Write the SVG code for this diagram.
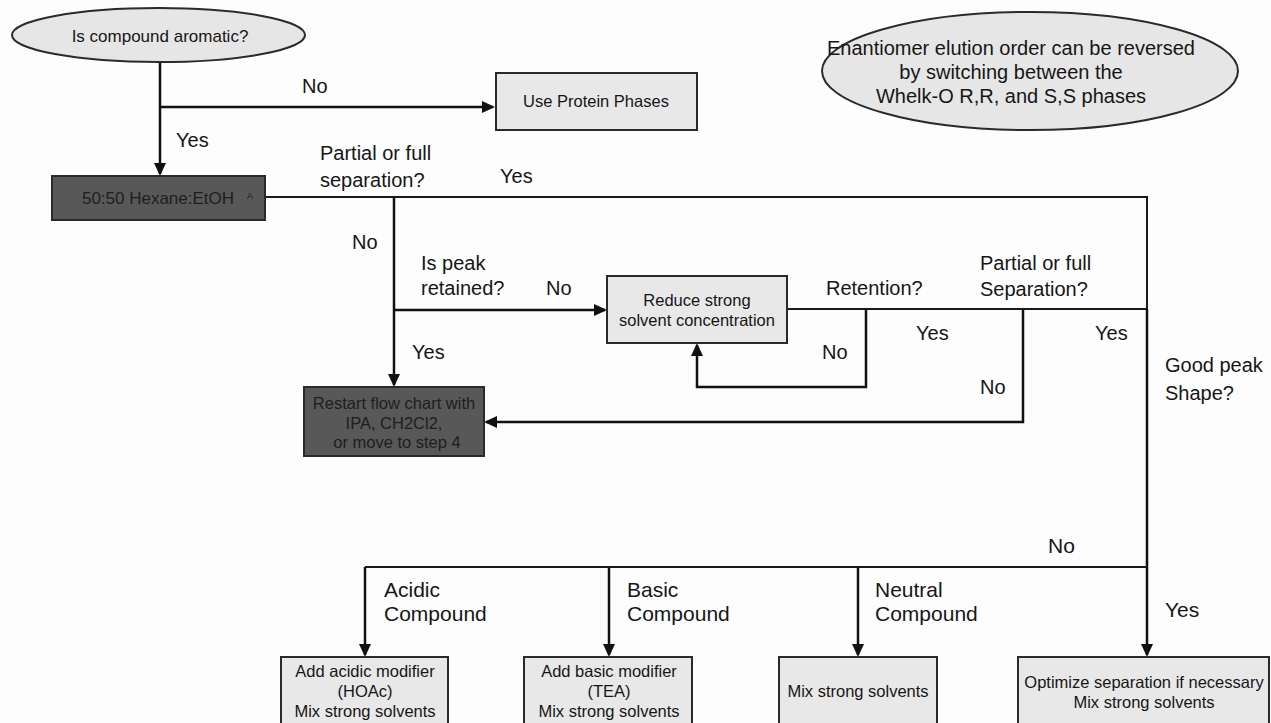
<svg xmlns="http://www.w3.org/2000/svg" width="1271" height="723" viewBox="0 0 1271 723">
  <defs>
    <marker id="arrow" markerUnits="userSpaceOnUse" markerWidth="13" markerHeight="12" refX="11" refY="6" orient="auto">
      <path d="M0,0 L13,6 L0,12 z" fill="#111"/>
    </marker>
    <style>
      text { font-family: "Liberation Sans", Arial, sans-serif; fill: #161616; }
      .lbl { font-size: 20px; }
      .lblb { font-size: 21px; }
      .box { font-size: 16.5px; text-anchor: middle; }
      .note { font-size: 20px; text-anchor: middle; }
      .light { fill: #e8e8e8; stroke: #2a2a2a; stroke-width: 2; }
      .dark { fill: #585858; stroke: #2a2a2a; stroke-width: 2; }
      .dtext { fill: #1e1e1e; }
      .ell { fill: #e6e6e6; stroke: #2a2a2a; stroke-width: 2; }
      .wire { fill: none; stroke: #1a1a1a; stroke-width: 2; }
      .flow { fill: none; stroke: #111; stroke-width: 2.5; marker-end: url(#arrow); }
    </style>
  </defs>

  <rect width="1271" height="723" fill="#fdfdfd"/>

  <!-- connectors -->
  <g id="connectors">
    <line class="flow" x1="160" y1="62" x2="160" y2="174"/>
    <line class="flow" x1="160" y1="107" x2="493" y2="107"/>
    <polyline class="wire" points="265,197 1147,197 1147,309"/>
    <line class="flow" x1="394" y1="197" x2="394" y2="385"/>
    <line class="flow" x1="394" y1="310" x2="605" y2="310"/>
    <line class="wire" x1="787" y1="309" x2="1147" y2="309"/>
    <polyline class="flow" points="866,309 866,387 697,387 697,345"/>
    <polyline class="flow" points="1023,309 1023,422 486,422"/>
    <line class="flow" x1="1147" y1="309" x2="1147" y2="655"/>
    <line class="wire" x1="365" y1="567" x2="1147" y2="567"/>
    <line class="flow" x1="365" y1="567" x2="365" y2="655"/>
    <line class="flow" x1="609" y1="567" x2="609" y2="655"/>
    <line class="flow" x1="858" y1="567" x2="858" y2="655"/>
  </g>

  <!-- connector labels -->
  <g id="labels">
    <text class="lbl" x="302" y="93">No</text>
    <text class="lbl" x="176" y="147">Yes</text>
    <text class="lbl" x="320" y="160">Partial or full</text>
    <text class="lbl" x="320" y="187">separation?</text>
    <text class="lbl" x="500" y="183">Yes</text>
    <text class="lbl" x="352" y="249">No</text>
    <text class="lbl" x="421" y="270">Is peak</text>
    <text class="lbl" x="421" y="295">retained?</text>
    <text class="lbl" x="546" y="295">No</text>
    <text class="lbl" x="412" y="359">Yes</text>
    <text class="lbl" x="826" y="295">Retention?</text>
    <text class="lbl" x="980" y="270">Partial or full</text>
    <text class="lbl" x="980" y="296">Separation?</text>
    <text class="lbl" x="822" y="359">No</text>
    <text class="lbl" x="916" y="340">Yes</text>
    <text class="lbl" x="980" y="394">No</text>
    <text class="lbl" x="1095" y="340">Yes</text>
    <text class="lbl" x="1165" y="372">Good peak</text>
    <text class="lbl" x="1165" y="400">Shape?</text>
    <text class="lblb" x="1048" y="553">No</text>
    <text class="lblb" x="384" y="597">Acidic</text>
    <text class="lblb" x="384" y="621">Compound</text>
    <text class="lblb" x="627" y="597">Basic</text>
    <text class="lblb" x="627" y="621">Compound</text>
    <text class="lblb" x="875" y="597">Neutral</text>
    <text class="lblb" x="875" y="621">Compound</text>
    <text class="lblb" x="1165" y="617">Yes</text>
  </g>

  <!-- nodes -->
  <g id="aromatic">
    <ellipse class="ell" cx="158.5" cy="35" rx="146.5" ry="27"/>
    <text class="box" x="160" y="42" style="font-size:17px">Is compound aromatic?</text>
  </g>

  <g id="protein">
    <rect class="light" x="496" y="73" width="201" height="57"/>
    <text class="box" x="596" y="107">Use Protein Phases</text>
  </g>

  <g id="elution-note">
    <ellipse class="ell" cx="1030" cy="71" rx="208" ry="59"/>
    <text class="note" x="1011" y="55">Enantiomer elution order can be reversed</text>
    <text class="note" x="1011" y="79">by switching between the</text>
    <text class="note" x="1011" y="103">Whelk-O R,R, and S,S phases</text>
  </g>

  <g id="hexane">
    <rect class="dark" x="52" y="176" width="213" height="44"/>
    <text class="box dtext" x="158" y="204" style="font-size:17px">50:50 Hexane:EtOH</text>
    <text class="dtext" x="247" y="199" style="font-size:9px">A</text>
  </g>

  <g id="reduce">
    <rect class="light" x="607" y="276" width="180" height="67"/>
    <text class="box" x="697" y="306">Reduce strong</text>
    <text class="box" x="697" y="326">solvent concentration</text>
  </g>

  <g id="restart">
    <rect class="dark" x="304" y="387" width="180" height="69"/>
    <text class="box dtext" x="394" y="409">Restart flow chart with</text>
    <text class="box dtext" x="394" y="429">IPA, CH2Cl2,</text>
    <text class="box dtext" x="397" y="448">or move to step 4</text>
  </g>

  <g id="acidic">
    <rect class="light" x="281" y="657" width="167" height="72"/>
    <text class="box" x="365" y="677">Add acidic modifier</text>
    <text class="box" x="365" y="697">(HOAc)</text>
    <text class="box" x="365" y="717">Mix strong solvents</text>
  </g>

  <g id="basic">
    <rect class="light" x="524" y="657" width="168" height="72"/>
    <text class="box" x="609" y="677">Add basic modifier</text>
    <text class="box" x="609" y="697">(TEA)</text>
    <text class="box" x="609" y="717">Mix strong solvents</text>
  </g>

  <g id="neutral">
    <rect class="light" x="779" y="657" width="158" height="72"/>
    <text class="box" x="858" y="697">Mix strong solvents</text>
  </g>

  <g id="optimize">
    <rect class="light" x="1018" y="657" width="251" height="72"/>
    <text class="box" x="1144" y="688">Optimize separation if necessary</text>
    <text class="box" x="1144" y="708">Mix strong solvents</text>
  </g>
</svg>
